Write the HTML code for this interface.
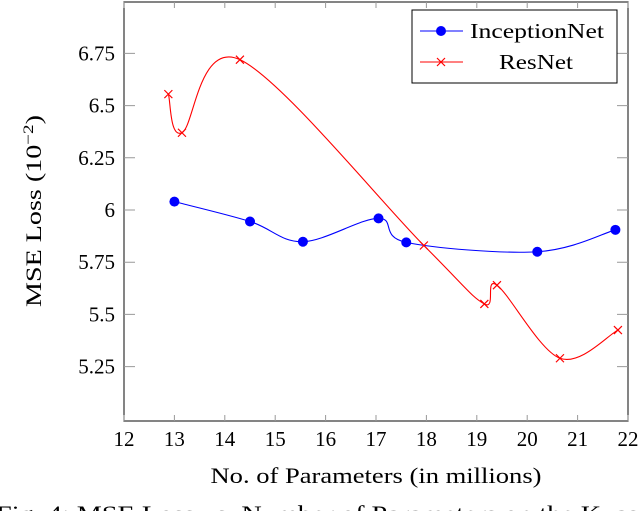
<!DOCTYPE html>
<html><head><meta charset="utf-8">
<style>
html,body{margin:0;padding:0;background:#fff;width:640px;height:511px;overflow:hidden}
svg text{font-family:"Liberation Serif",serif;fill:#000}
</style></head>
<body>
<svg id="chart" width="640" height="511" viewBox="0 0 640 511" xmlns="http://www.w3.org/2000/svg">
<rect x="124" y="2" width="504" height="419" fill="none" stroke="#333" stroke-width="1.2"/>
<g id="ticks"></g>
<g id="series"></g>
<text x="376" y="483" font-size="22" text-anchor="middle" textLength="331" lengthAdjust="spacingAndGlyphs">No. of Parameters (in millions)</text>
<text transform="translate(41,211) rotate(-90)" font-size="22" text-anchor="middle" textLength="192" lengthAdjust="spacingAndGlyphs">MSE Loss (10<tspan dy="-8" font-size="15">−2</tspan><tspan dy="8">)</tspan></text>
<g>
<rect x="412" y="10" width="205" height="73" fill="#fff" stroke="#000"/>
<line x1="420" y1="31" x2="463" y2="31" stroke="#0000ff" stroke-width="1"/>
<circle cx="441" cy="31" r="5" fill="#0000ff"/>
<text x="470" y="38" font-size="21" textLength="134" lengthAdjust="spacingAndGlyphs">InceptionNet</text>
<line x1="420" y1="62" x2="463" y2="62" stroke="#ff0000" stroke-width="1"/>
<path d="M437,58L445,66M437,66L445,58" stroke="#ff0000" stroke-width="1.2"/>
<text x="499" y="69" font-size="21" textLength="74" lengthAdjust="spacingAndGlyphs">ResNet</text>
</g>
<text x="-4" y="521" font-size="22" fill="#444" textLength="660" lengthAdjust="spacingAndGlyphs">Fig. 4: MSE Loss vs. Number of Parameters on the Kvasir</text>
</svg>
<script>
const xTicks=[12,13,14,15,16,17,18,19,20,21,22];
const yTicks=[5.25,5.5,5.75,6,6.25,6.5,6.75];
const yTickLabels=["5.25","5.5","5.75","6","6.25","6.5","6.75"];
const inceptionX=[13.0,14.5,15.55,17.05,17.6,20.2,21.75];
const inceptionY=[6.04,5.945,5.848,5.96,5.845,5.80,5.905];
const resnetX=[12.88,13.15,14.3,17.95,19.15,19.4,20.65,21.8];
const resnetY=[6.555,6.37,6.72,5.83,5.55,5.64,5.29,5.425];
const X0=124,X1=628,Y6=210,YS=52.2/0.25;
const sx=v=>X0+(v-12)*(X1-X0)/10;
const sy=v=>Y6-(v-6)*YS;
const NS="http://www.w3.org/2000/svg";
const tg=document.getElementById('ticks'),sg=document.getElementById('series');
function mk(t,a,p){const e=document.createElementNS(NS,t);for(const k in a)e.setAttribute(k,a[k]);p.appendChild(e);return e;}
xTicks.forEach(v=>{const x=sx(v);
 const l=mk('path',{d:`M${x},421v-6M${x},2v6`,stroke:'#999'},tg);
 
 
 const t=mk('text',{x:x,y:446,'font-size':21,'text-anchor':'middle'},tg);t.textContent=v;
 
 });
yTicks.forEach((v,i)=>{const y=sy(v);
 const l=mk('path',{d:`M124,${y}h11M628,${y}h-11`,stroke:'#999'},tg);
 
 
 const t=mk('text',{x:115,y:y+7,'font-size':21,'text-anchor':'end'},tg);t.textContent=yTickLabels[i];
 
 });
function smooth(p){let d=`M${p[0][0]},${p[0][1]}`;const k=0.17;
 for(let i=0;i<p.length-1;i++){const a=p[i-1]||p[i],b=p[i],c=p[i+1],e=p[i+2]||c;
 d+=`C${b[0]+(c[0]-a[0])*k},${b[1]+(c[1]-a[1])*k} ${c[0]-(e[0]-b[0])*k},${c[1]-(e[1]-b[1])*k} ${c[0]},${c[1]}`;}return d;}
function series(xs,ys,color,name,marker){
 const p=xs.map((x,i)=>[sx(x),sy(ys[i])]);
 const l=mk('path',{d:smooth(p),fill:'none',stroke:color,'stroke-width':1.1},sg);
 
 
 p.forEach(([x,y])=>{let m;
  if(marker==='o')m=mk('circle',{cx:x,cy:y,r:5,fill:color},sg);
  else m=mk('path',{d:`M${x-4},${y-4}L${x+4},${y+4}M${x-4},${y+4}L${x+4},${y-4}`,stroke:color,'stroke-width':1.2},sg);
  
  });}
series(inceptionX,inceptionY,'#0000ff','inceptionnet','o');
series(resnetX,resnetY,'#ff0000','resnet','x');
</script>
</body></html>
